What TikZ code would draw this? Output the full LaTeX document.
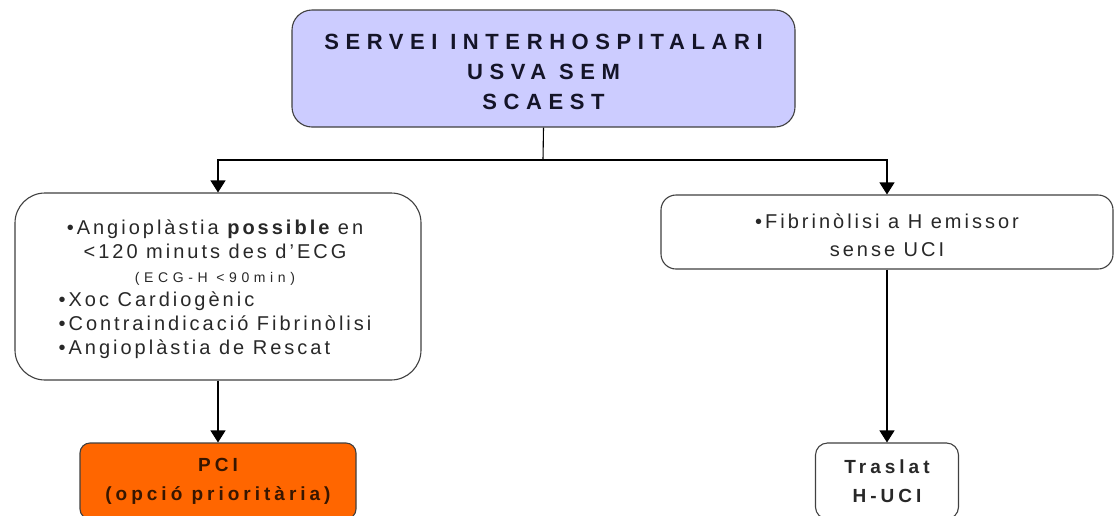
\documentclass[tikz,border=0pt]{standalone}
\usepackage{fontspec}
\setmainfont{Liberation Sans}
\newfontfamily\titlefont[LetterSpace=30]{Liberation Sans}
\newfontfamily\bodyfont[LetterSpace=15]{Liberation Sans}
\newfontfamily\tinyfont[LetterSpace=33]{Liberation Sans}
\newfontfamily\boldboxfont[LetterSpace=21]{Liberation Sans}
\usetikzlibrary{arrows.meta}
\definecolor{lav}{RGB}{204,204,255}
\definecolor{orng}{RGB}{255,102,0}
\definecolor{ink}{RGB}{40,40,40}
\definecolor{navy}{RGB}{20,20,40}
\definecolor{brn}{RGB}{55,22,0}
\begin{document}
\begin{tikzpicture}[x=1pt,y=-1pt,
  box/.style={draw=black!75, line width=1.1pt, align=center, inner sep=0pt, text=ink},
  topbox/.style={box, fill=lav, rounded corners=20pt},
  titletext/.style={align=center, inner sep=0pt, text=navy,
    font={\titlefont\bfseries\fontsize{22}{30}\selectfont}},
  bodytext/.style={align=center, inner sep=0pt, text=ink, font={\bodyfont\fontsize{20}{24}\selectfont}},
  bodybox/.style={box, fill=white},
  endbox/.style={box, font={\boldboxfont\bfseries\fontsize{19}{29}\selectfont}},
  arr/.style={line width=1.1pt, draw=black, -{Triangle[width=15pt,length=12pt]}},
  ln/.style={line width=1.1pt, draw=black}]
\useasboundingbox (0,0) rectangle (1120,515);
\clip (0,0) rectangle (1120,515);
\fill[white] (0,0) rectangle (1120,515);

\node[topbox, minimum width=503pt, minimum height=117pt] (top) at (543.5,68.5) {};
\node[titletext] (toptext) at (543.5,71.5)
  {SERVEI INTERHOSPITALARI\\USVA SEM\\SCAEST};

\node[bodybox, rounded corners=30pt, minimum width=406pt, minimum height=187pt] (left) at (218,286.5) {};
\node[bodytext] (lefttext) at (215,290)
  {\begin{tabular}{@{}c@{}}
   •Angioplàstia {\bfseries possible} en\\
   <120 minuts des d’ECG\\
   {\tinyfont\fontsize{14}{14}\selectfont (ECG-H <90min)}\\
   \multicolumn{1}{@{}l@{}}{•Xoc Cardiogènic}\\
   \multicolumn{1}{@{}l@{}}{•Contraindicació Fibrinòlisi}\\
   \multicolumn{1}{@{}l@{}}{•Angioplàstia de Rescat}
   \end{tabular}};

\node[bodybox, rounded corners=15pt, minimum width=452pt, minimum height=74pt] (right) at (887,232) {};
\node[bodytext, font={\bodyfont\fontsize{20}{28}\selectfont}] (righttext) at (887,235)
  {•Fibrinòlisi a H\ emissor\\sense UCI};

\node[endbox, fill=orng, text=brn, rounded corners=10pt, minimum width=276pt, minimum height=76pt] (pci) at (218,481)
  {PCI\\(opció prioritària)};

\node[endbox, fill=white, rounded corners=12pt, minimum width=143pt, minimum height=76pt] (tras) at (887,481)
  {Traslat\\H-UCI};

\coordinate (j) at (543,160);
\draw[ln] (top.south) -- (j);
\draw[arr] (j) -| (left.north);
\draw[arr] (j) -| (right.north);
\draw[arr] (left.south) -- (pci.north);
\draw[arr] (right.south) -- (tras.north);
\end{tikzpicture}
\end{document}
